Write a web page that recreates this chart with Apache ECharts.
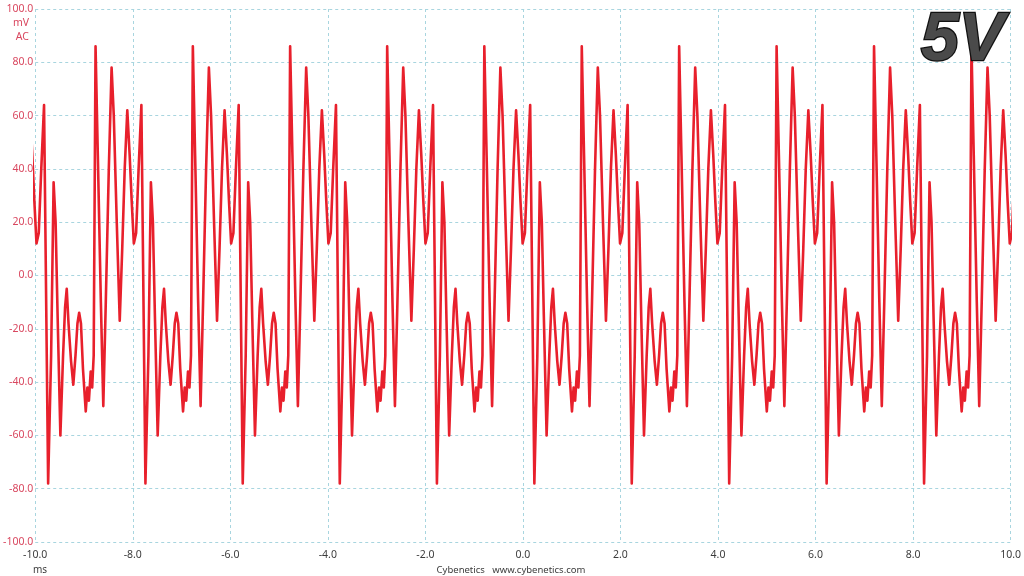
<!DOCTYPE html>
<html><head><meta charset="utf-8">
<script src="https://cdn.jsdelivr.net/npm/echarts@6/dist/echarts.min.js"></script>
<style>html,body{margin:0;padding:0;background:#fff}#c{width:1024px;height:576px}</style>
</head><body><div id="c"></div>
<script>
// x axis ticks (ms) and y axis ticks (mV)
const xTicks = [-10, -8, -6, -4, -2, 0, 2, 4, 6, 8, 10];
const yTicks = [-100, -80, -60, -40, -20, 0, 20, 40, 60, 80, 100];

// times (ms) of the deep trough that begins each repeating cycle
const cycleStartMs = [-11.731, -9.735, -7.740, -5.745, -3.755, -1.763, 0.235, 2.232, 4.230, 6.228, 8.226];

// one cycle: offset from the trough (ms) and level (mV)
const cycleOffsetMs = [0.000, 0.061, 0.112, 0.153, 0.194, 0.251, 0.306, 0.347, 0.381, 0.418,
  0.469, 0.516, 0.561, 0.601, 0.636, 0.673, 0.714, 0.771, 0.805, 0.836,
  0.873, 0.903, 0.934, 0.972, 1.019, 1.081, 1.131, 1.182, 1.244, 1.301,
  1.346, 1.407, 1.468, 1.519, 1.570, 1.623, 1.672, 1.713, 1.757, 1.804,
  1.855, 1.912];
const cycleMv = [-78, -30, 35, 20, -15, -60, -30, -12, -5, -18,
  -32, -41, -30, -18, -14, -18, -35, -51, -42, -47,
  -36, -42, -30, 86, 45, -10, -49, -10, 40, 78,
  60, 20, -17, 10, 40, 62, 45, 28, 12, 16,
  40, 64];

const seriesData = [];
cycleStartMs.forEach(function (s) {
  cycleOffsetMs.forEach(function (o, i) {
    seriesData.push([+(s + o).toFixed(3), cycleMv[i]]);
  });
});

const chart = echarts.init(document.getElementById('c'), null, {renderer: 'canvas'});
const gridColor = '#a8d5df';
chart.setOption({
  animation: false,
  backgroundColor: '#ffffff',
  grid: {left: 31, right: 12, top: 9, bottom: 34, containLabel: false},
  xAxis: {
    type: 'value', min: xTicks[0], max: xTicks[xTicks.length - 1], interval: 2,
    axisLine: {show: false}, axisTick: {show: false},
    axisLabel: {color: '#3c3c3c', fontSize: 10.5, fontFamily: 'Noto Sans', margin: 8,
      formatter: function (v) { return v.toFixed(1); }},
    splitLine: {show: true, lineStyle: {color: gridColor, type: [3, 3], width: 1}}
  },
  yAxis: {
    type: 'value', min: yTicks[0], max: yTicks[yTicks.length - 1], interval: 20,
    axisLine: {show: false}, axisTick: {show: false},
    axisLabel: {color: '#d9475f', fontSize: 10.5, fontFamily: 'Noto Sans', margin: 2,
      formatter: function (v) { return v.toFixed(1); }},
    splitLine: {show: true, lineStyle: {color: gridColor, type: [3, 3], width: 1}}
  },
  series: [{
    type: 'line', data: seriesData, showSymbol: false, symbol: 'none',
    clip: true, z: 3,
    lineStyle: {color: '#e8202c', width: 2.6, join: 'round'}
  }],
  graphic: [
    {type: 'text', x: 29, y: 23, z: 10, style: {text: 'mV', fill: '#d9475f', font: '10.5px "Noto Sans"', align: 'right', verticalAlign: 'middle'}},
    {type: 'text', x: 29, y: 37, z: 10, style: {text: 'AC', fill: '#d9475f', font: '10.5px "Noto Sans"', align: 'right', verticalAlign: 'middle'}},
    {type: 'text', x: 33, y: 570, z: 10, style: {text: 'ms', fill: '#3c3c3c', font: '10px "Noto Sans"', align: 'left', verticalAlign: 'middle'}},
    {type: 'text', x: 511, y: 570, z: 10, style: {text: 'Cybenetics   www.cybenetics.com', fill: '#3c3c3c', font: '9.5px "Noto Sans"', align: 'center', verticalAlign: 'middle'}},
    {type: 'text', x: 921, y: 41, z: 100, style: {
      text: '5V', font: 'italic bold 68px "Liberation Sans"', align: 'left', verticalAlign: 'middle',
      fill: '#4a4a4a', stroke: '#121212', lineWidth: 2.6,
      shadowColor: 'rgba(0,0,0,0.3)', shadowBlur: 2, shadowOffsetX: 1, shadowOffsetY: 1
    }}
  ]
});
</script></body></html>
